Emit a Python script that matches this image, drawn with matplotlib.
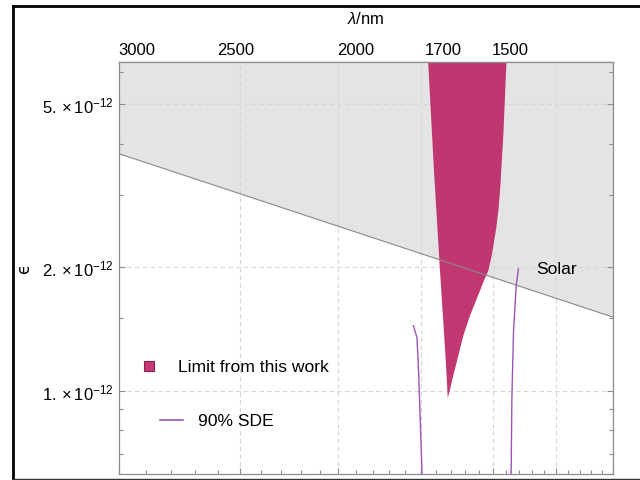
import numpy as np
import matplotlib
matplotlib.use("Agg")
import matplotlib.pyplot as plt
from matplotlib.ticker import FixedLocator, NullLocator, NullFormatter, FixedFormatter
from matplotlib.lines import Line2D
from matplotlib.patches import Rectangle

plt.rcParams['font.family'] = ['Liberation Sans', 'DejaVu Sans']
plt.rcParams['mathtext.fontset'] = 'custom'
plt.rcParams['mathtext.rm'] = 'Liberation Sans'
plt.rcParams['mathtext.it'] = 'Liberation Sans:italic'
plt.rcParams['mathtext.bf'] = 'Liberation Sans:bold'

HC = 1239.84  # eV*nm

# ---------------- data ----------------
mass_range = [0.4, 1.0]
eps_range = [6.26e-13, 6.32e-12]

solar_mass = [0.4, 1.0]
solar_eps = [3.78e-12, 1.51e-12]

# boundary of the excluded region ("Limit from this work"): left edge top->tip, right edge tip->top
limit_mass = [0.7088, 0.7172, 0.7252, 0.7296, 0.7333, 0.7356,
              0.7378, 0.7432, 0.7502, 0.7572, 0.7666, 0.7762, 0.7858, 0.7931, 0.7981, 0.8022,
              0.8050, 0.8085, 0.8110, 0.8157, 0.8207]
limit_eps = [6.6e-12, 3.40e-12, 1.944e-12, 1.468e-12, 1.151e-12, 0.958e-12,
             0.991e-12, 1.088e-12, 1.217e-12, 1.362e-12, 1.524e-12, 1.674e-12, 1.838e-12, 1.962e-12, 2.135e-12, 2.344e-12,
             2.50e-12, 2.80e-12, 3.15e-12, 4.27e-12, 6.6e-12]

sde_left_mass = [0.6902, 0.6933, 0.6948, 0.6969, 0.6991, 0.7013, 0.7022]
sde_left_eps = [1.440e-12, 1.375e-12, 1.350e-12, 1.109e-12, 0.837e-12, 0.626e-12, 0.58e-12]
sde_right_mass = [0.8386, 0.8352, 0.8310, 0.8285, 0.8274, 0.8272]
sde_right_eps = [1.981e-12, 1.804e-12, 1.390e-12, 0.954e-12, 0.633e-12, 0.58e-12]

x_major = [0.4, 0.5, 0.6, 0.7, 0.8, 0.9, 1.0]
x_minor = [0.42, 0.44, 0.46, 0.48, 0.52, 0.54, 0.56, 0.58, 0.62, 0.64, 0.66, 0.68,
           0.72, 0.74, 0.76, 0.78, 0.82, 0.84, 0.86, 0.88, 0.92, 0.94, 0.96, 0.98]
y_major = [1e-12, 2e-12, 5e-12]
y_major_labels = [r'$1.\times10^{-12}$', r'$2.\times10^{-12}$', r'$5.\times10^{-12}$']
y_minor = [0.7e-12, 0.8e-12, 0.9e-12, 1.5e-12, 3e-12, 4e-12, 6e-12]
lam_ticks = [3000, 2500, 2000, 1700, 1500]
lam_labels = ['3000', '2500', '2000', '1700', '1500']

# ---------------- style ----------------
GRAY_FILL = '#e4e4e4'
SOLAR_LINE = '#8a8a8a'
MAGENTA = '#bd2c6a'
PURPLE = '#9b55b3'
AXCOL = '#8c8c8c'
FS = 12
FSL = 12.6

fig = plt.figure(figsize=(6.4, 4.81), dpi=100)
ax = fig.add_axes([119.3 / 640, 1 - 475 / 481, 494 / 640, 411.7 / 481])
ax.set_xscale('log')
ax.set_yscale('log')
ax.set_xlim(mass_range)
ax.set_ylim(eps_range)

ax.fill_between(solar_mass, solar_eps, [1e-11, 1e-11], color=GRAY_FILL, lw=0, zorder=0.2)
ax.fill(limit_mass, limit_eps, color=MAGENTA, alpha=0.95, lw=0, zorder=2)
ax.plot(solar_mass, solar_eps, color=SOLAR_LINE, lw=0.8, zorder=3)
ax.plot(sde_left_mass, sde_left_eps, color=PURPLE, lw=1.0, zorder=3)
ax.plot(sde_right_mass, sde_right_eps, color=PURPLE, lw=1.0, zorder=3)

ax.text(0.866, 1.98e-12, 'Solar', fontsize=FSL, ha='left', va='center', zorder=4)

# ticks
ax.xaxis.set_major_locator(FixedLocator(x_major))
ax.xaxis.set_minor_locator(FixedLocator(x_minor))
ax.xaxis.set_major_formatter(NullFormatter())
ax.xaxis.set_minor_formatter(NullFormatter())
ax.yaxis.set_major_locator(FixedLocator(y_major))
ax.yaxis.set_major_formatter(FixedFormatter(y_major_labels))
ax.yaxis.set_minor_locator(FixedLocator(y_minor))
ax.yaxis.set_minor_formatter(NullFormatter())
ax.tick_params(which='both', direction='in', color=AXCOL, width=0.8,
               top=False, right=True, bottom=True, left=True, labelsize=FS, pad=4)
ax.tick_params(which='major', length=4.5)
ax.tick_params(which='minor', length=2.8)
ax.tick_params(axis='x', labelbottom=False)

ax.set_axisbelow(True)
ax.grid(True, which='major', color='#d6d6d6', ls=(0, (4, 3)), lw=0.8)

for s in ax.spines.values():
    s.set_color(AXCOL)
    s.set_linewidth(0.9)

ax.set_ylabel('\u03f5', fontsize=FS, family=['DejaVu Sans'])
ax.yaxis.set_label_coords((33 - 119.3) / 494, 0.5)

# secondary wavelength axis
def e2l(E):
    E = np.asarray(E, dtype=float)
    with np.errstate(divide='ignore', invalid='ignore'):
        return HC / E

ax2 = ax.secondary_xaxis('top', functions=(e2l, e2l))
ax2.set_xticks(lam_ticks, labels=lam_labels)
ax2.xaxis.set_minor_locator(NullLocator())
ax2.tick_params(which='major', direction='in', color=AXCOL, width=0.8, length=4.5,
                labelsize=FS, pad=4)
ax2.spines['top'].set_color(AXCOL)
ax2.spines['top'].set_linewidth(0.9)

fig.text(366 / 640, 1 - 19 / 481, r'$\lambda$/nm', fontsize=FS, ha='center', va='center')

# manual legend
def ax_frac(px, py):
    return (px - 119.3) / 494, (475 - py) / 411.7

sx, sy = ax_frac(149.3, 366.7)
w, h = 10 / 494, 10 / 411.7
ax.add_patch(Rectangle((sx - w / 2, sy - h / 2), w, h, transform=ax.transAxes,
                       facecolor='#c63a78', edgecolor='#8a1f50', lw=0.8, zorder=5, clip_on=False))
tx, ty = ax_frac(177.5, 367.5)
ax.text(tx, ty, 'Limit from this work', transform=ax.transAxes, fontsize=FSL, ha='left', va='center', zorder=5)
lx0, ly = ax_frac(160, 420.7)
lx1, _ = ax_frac(183.3, 420.7)
ax.add_line(Line2D([lx0, lx1], [ly, ly], transform=ax.transAxes, color=PURPLE, lw=1.2, zorder=5))
tx2, ty2 = ax_frac(198.3, 421.5)
ax.text(tx2, ty2, '90% SDE', transform=ax.transAxes, fontsize=FSL, ha='left', va='center', zorder=5)

# outer frame of the picture
fl = 13.3 / 640
ftop = 1 - 6.7 / 481
fbot = 1 - 480 / 481
fig.add_artist(Line2D([fl, fl], [fbot, ftop], transform=fig.transFigure, color='black', lw=2.0))
fig.add_artist(Line2D([fl, 1.0], [ftop, ftop], transform=fig.transFigure, color='black', lw=2.0))
fig.add_artist(Line2D([fl, 1.0], [fbot + 0.001, fbot + 0.001], transform=fig.transFigure, color='#333333', lw=1.0))

fig.savefig('out.png', dpi=100)
